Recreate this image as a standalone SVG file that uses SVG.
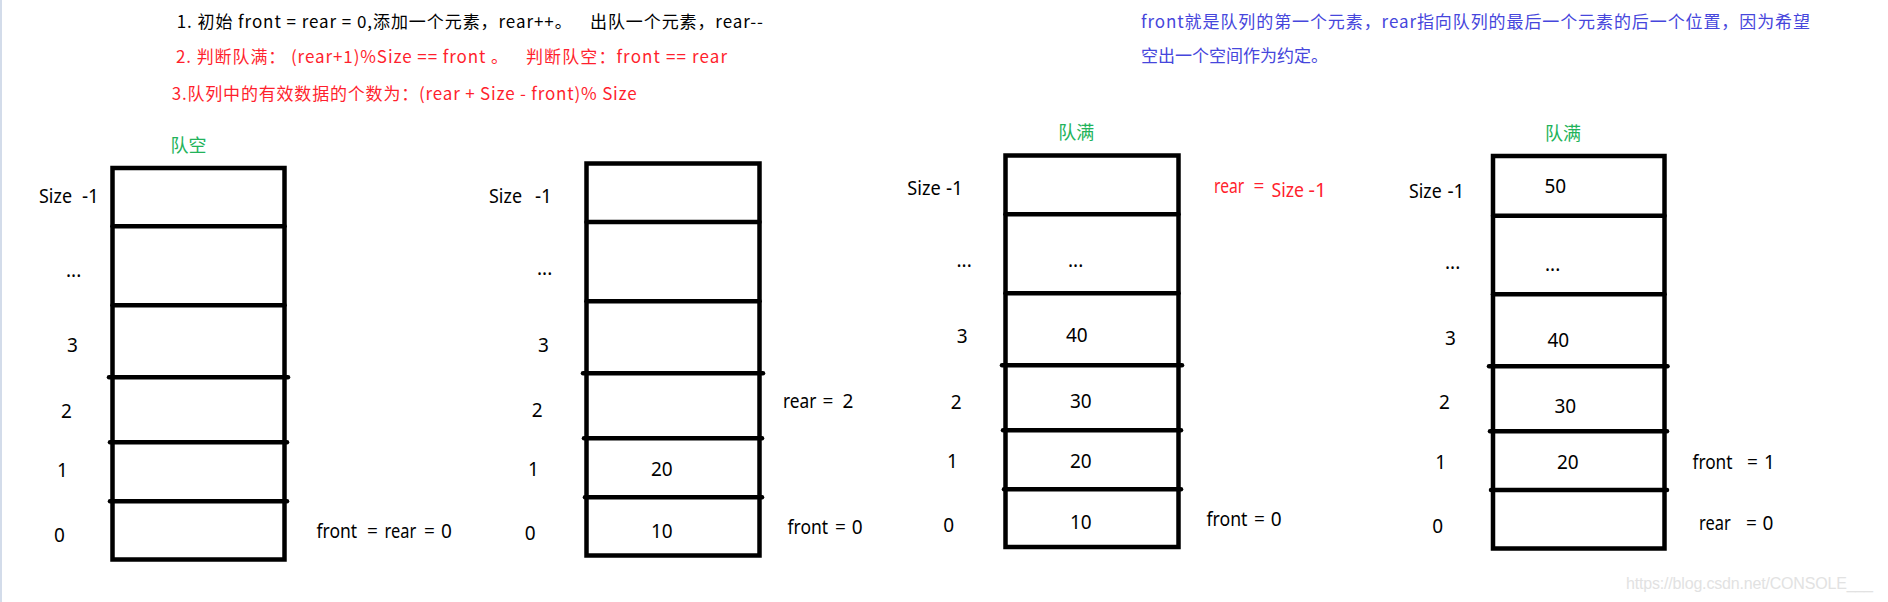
<svg xmlns="http://www.w3.org/2000/svg" width="1888" height="602" viewBox="0 0 1888 602">
<style>
.bg{fill:#fff}
.cell{fill:none;stroke:#000;stroke-width:4.5}
.dv{stroke:#000;stroke-width:4.5;stroke-linecap:round}
.lbl{font-family:"Noto Sans","Open Sans",sans-serif;font-size:19px;fill:#000}
.top{font-family:"Noto Sans CJK SC",sans-serif;font-size:17px;fill:#000}
.red{fill:#ff1f2e}
.blue{fill:#4646dc}
.green{font-family:"Noto Sans CJK SC",sans-serif;font-size:18px;fill:#22b35a}
.wm{font-family:"Liberation Sans",sans-serif;font-size:16px;fill:#e2e2e2}
</style>
<rect class="bg" x="0" y="0" width="1888" height="602"/>
<rect x="0" y="0" width="2" height="602" fill="#d3dcea"/>

<g id="notes">
<text class="top" y="28.3"><tspan x="176.7" textLength="395">1. 初始 front = rear = 0,添加一个元素，rear++。</tspan><tspan x="590" textLength="173">出队一个元素，rear--</tspan></text>
<text class="top red" y="63.3"><tspan x="176" textLength="332">2. 判断队满： (rear+1)%Size == front 。</tspan><tspan x="526" textLength="201">判断队空：front == rear</tspan></text>
<text class="top red" x="171.7" y="100" textLength="465">3.队列中的有效数据的个数为：(rear + Size - front)% Size</text>
<text class="top blue" x="1141" y="28.3" textLength="669">front就是队列的第一个元素，rear指向队列的最后一个元素的后一个位置，因为希望</text>
<text class="top blue" x="1141" y="61.7">空出一个空间作为约定。</text>
</g>

<g id="queue-empty">
<text class="green" x="170.5" y="152">队空</text>
<rect class="cell" x="112.5" y="168" width="172" height="391.5"/>
<line class="dv" x1="112.5" y1="226.3" x2="284.5" y2="226.3"/>
<line class="dv" x1="112.5" y1="305.3" x2="284.5" y2="305.3"/>
<line class="dv" x1="109" y1="377.3" x2="288" y2="377.3"/>
<line class="dv" x1="110" y1="442.3" x2="287" y2="442.3"/>
<line class="dv" x1="110" y1="501.3" x2="287" y2="501.3"/>
<text class="lbl" x="39" y="203" textLength="33" lengthAdjust="spacingAndGlyphs">Size</text><text class="lbl" x="82" y="203">-1</text>
<text class="lbl" x="66" y="277">...</text>
<text class="lbl" x="67" y="352">3</text>
<text class="lbl" x="61" y="418">2</text>
<text class="lbl" x="57" y="477">1</text>
<text class="lbl" x="54" y="542">0</text>
<text class="lbl" x="316.5" y="538" textLength="40.6" lengthAdjust="spacingAndGlyphs">front</text>
<text class="lbl" x="367" y="538">=</text>
<text class="lbl" x="384.5" y="538" textLength="31.7" lengthAdjust="spacingAndGlyphs">rear</text>
<text class="lbl" x="424" y="538">=</text>
<text class="lbl" x="441" y="538">0</text>
</g>

<g id="queue-two">
<rect class="cell" x="586.5" y="163.5" width="173" height="392"/>
<line class="dv" x1="586.5" y1="222" x2="759.5" y2="222"/>
<line class="dv" x1="586.5" y1="301.3" x2="759.5" y2="301.3"/>
<line class="dv" x1="583" y1="373.3" x2="763" y2="373.3"/>
<line class="dv" x1="584" y1="438.3" x2="762" y2="438.3"/>
<line class="dv" x1="585" y1="497.3" x2="762" y2="497.3"/>
<text class="lbl" x="489" y="202.7" textLength="33" lengthAdjust="spacingAndGlyphs">Size</text><text class="lbl" x="535" y="202.7">-1</text>
<text class="lbl" x="537" y="275">...</text>
<text class="lbl" x="538" y="351.7">3</text>
<text class="lbl" x="531.7" y="416.7">2</text>
<text class="lbl" x="528" y="476">1</text>
<text class="lbl" x="524.7" y="540">0</text>
<text class="lbl" x="651" y="476">20</text>
<text class="lbl" x="651" y="537.7">10</text>
<text class="lbl" x="783" y="408" textLength="33.4" lengthAdjust="spacingAndGlyphs">rear</text>
<text class="lbl" x="822.5" y="408">=</text>
<text class="lbl" x="842.5" y="408">2</text>
<text class="lbl" x="787.5" y="534" textLength="40.6" lengthAdjust="spacingAndGlyphs">front</text>
<text class="lbl" x="835" y="534">=</text>
<text class="lbl" x="851.7" y="534">0</text>
</g>

<g id="queue-full-a">
<text class="green" x="1058.3" y="139">队满</text>
<rect class="cell" x="1005.5" y="155.5" width="173" height="391.5"/>
<line class="dv" x1="1005.5" y1="214.3" x2="1178.5" y2="214.3"/>
<line class="dv" x1="1005.5" y1="293.3" x2="1178.5" y2="293.3"/>
<line class="dv" x1="1002" y1="365.3" x2="1182" y2="365.3"/>
<line class="dv" x1="1003" y1="430.3" x2="1181" y2="430.3"/>
<line class="dv" x1="1004" y1="489.3" x2="1181" y2="489.3"/>
<text class="lbl" x="907.3" y="195.3" textLength="33.4" lengthAdjust="spacingAndGlyphs">Size</text><text class="lbl" x="946" y="195.3">-1</text>
<text class="lbl" x="956.5" y="267">...</text>
<text class="lbl" x="1068" y="266.7">...</text>
<text class="lbl" x="956.7" y="343.3">3</text>
<text class="lbl" x="950.7" y="409">2</text>
<text class="lbl" x="947" y="468.3">1</text>
<text class="lbl" x="943.3" y="532.3">0</text>
<text class="lbl" x="1066" y="341.7">40</text>
<text class="lbl" x="1070" y="408.3">30</text>
<text class="lbl" x="1070" y="468.3">20</text>
<text class="lbl" x="1070" y="529.3">10</text>
<text class="lbl red" x="1214" y="193.3" textLength="30.3" lengthAdjust="spacingAndGlyphs">rear</text>
<text class="lbl red" x="1253.5" y="193.3">=</text>
<text class="lbl red" style="font-size:20px" x="1271.5" y="196.7" textLength="32.6" lengthAdjust="spacingAndGlyphs">Size</text>
<text class="lbl red" style="font-size:20px" x="1308.5" y="196.7">-1</text>
<text class="lbl" x="1206.5" y="525.7" textLength="41" lengthAdjust="spacingAndGlyphs">front</text>
<text class="lbl" x="1254" y="525.7">=</text>
<text class="lbl" x="1270.7" y="525.7">0</text>
</g>

<g id="queue-full-b">
<text class="green" x="1545" y="140">队满</text>
<rect class="cell" x="1493" y="156" width="171.5" height="392.5"/>
<line class="dv" x1="1493" y1="215.7" x2="1664.5" y2="215.7"/>
<line class="dv" x1="1493" y1="294.3" x2="1664.5" y2="294.3"/>
<line class="dv" x1="1489" y1="366.3" x2="1667.5" y2="366.3"/>
<line class="dv" x1="1490" y1="431.3" x2="1667" y2="431.3"/>
<line class="dv" x1="1491" y1="490" x2="1667" y2="490"/>
<text class="lbl" x="1409" y="197.7" textLength="32.7" lengthAdjust="spacingAndGlyphs">Size</text><text class="lbl" x="1447.5" y="197.7">-1</text>
<text class="lbl" x="1445" y="269">...</text>
<text class="lbl" x="1545" y="270.7">...</text>
<text class="lbl" x="1445" y="345">3</text>
<text class="lbl" x="1439" y="409.3">2</text>
<text class="lbl" x="1435.3" y="469.3">1</text>
<text class="lbl" x="1432.3" y="533.3">0</text>
<text class="lbl" x="1544.5" y="193.3">50</text>
<text class="lbl" x="1547.5" y="346.7">40</text>
<text class="lbl" x="1554.5" y="413.3">30</text>
<text class="lbl" x="1557" y="469.3">20</text>
<text class="lbl" x="1692.5" y="469" textLength="40" lengthAdjust="spacingAndGlyphs">front</text>
<text class="lbl" x="1747" y="469">=</text>
<text class="lbl" x="1764" y="469">1</text>
<text class="lbl" x="1699" y="530" textLength="31.7" lengthAdjust="spacingAndGlyphs">rear</text>
<text class="lbl" x="1746" y="530">=</text>
<text class="lbl" x="1762.5" y="530">0</text>
</g>

<text class="wm" x="1626" y="589" textLength="247">https://blog.csdn.net/CONSOLE___</text>
</svg>
